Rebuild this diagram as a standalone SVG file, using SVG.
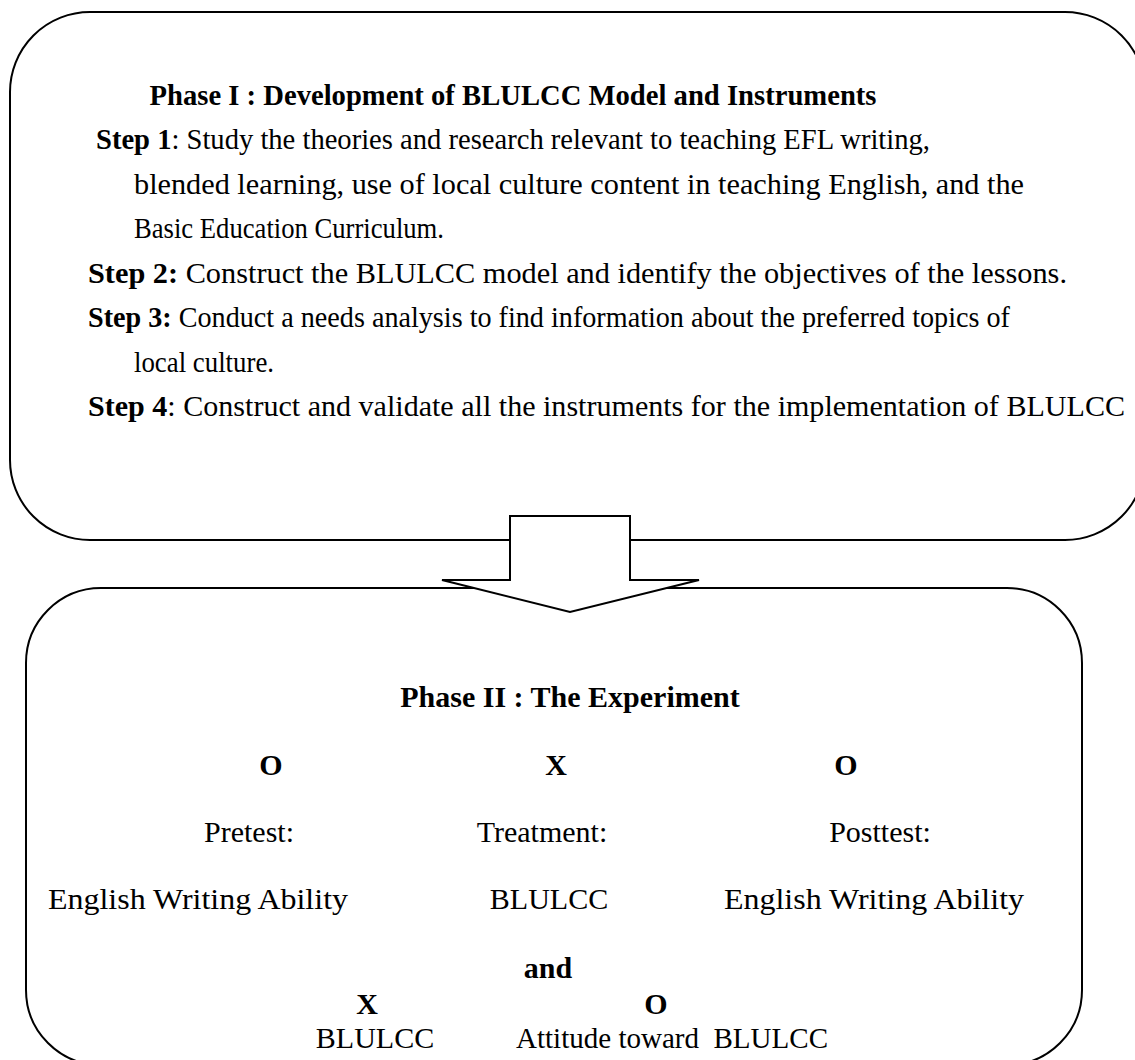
<svg xmlns="http://www.w3.org/2000/svg" width="1135" height="1060" viewBox="0 0 1135 1060">
<style>
.box{fill:#fff;stroke:#000;stroke-width:2}
.t{font-family:"Liberation Serif","Times New Roman",serif;font-size:30px;fill:#000}
.b{font-weight:bold}
.m{text-anchor:middle}
</style>
<rect width="1135" height="1060" fill="#fff"/>
<g id="phase1">
<rect class="box" x="10" y="12" width="1135" height="528" rx="80" ry="80"/>
<text class="t b m" x="513" y="105" textLength="727" lengthAdjust="spacingAndGlyphs">Phase I : Development of BLULCC Model and Instruments</text>
<text class="t" x="96" y="149" textLength="834" lengthAdjust="spacingAndGlyphs"><tspan class="b">Step 1</tspan>: Study the theories and research relevant to teaching EFL writing,</text>
<text class="t" x="134" y="194" textLength="890" lengthAdjust="spacingAndGlyphs">blended learning, use of local culture content in teaching English, and the</text>
<text class="t" x="134" y="238" textLength="310" lengthAdjust="spacingAndGlyphs">Basic Education Curriculum.</text>
<text class="t" x="88" y="283" textLength="979" lengthAdjust="spacingAndGlyphs"><tspan class="b">Step 2:</tspan> Construct the BLULCC model and identify the objectives of the lessons.</text>
<text class="t" x="88" y="327" textLength="922" lengthAdjust="spacingAndGlyphs"><tspan class="b">Step 3:</tspan> Conduct a needs analysis to find information about the preferred topics of</text>
<text class="t" x="134" y="372" textLength="140" lengthAdjust="spacingAndGlyphs">local culture.</text>
<text class="t" x="88" y="416" textLength="1037" lengthAdjust="spacingAndGlyphs"><tspan class="b">Step 4</tspan>: Construct and validate all the instruments for the implementation of BLULCC</text>
</g>
<g id="phase2">
<rect class="box" x="26" y="588" width="1056" height="477" rx="75" ry="75"/>
<text class="t b m" x="570" y="707">Phase II : The Experiment</text>
<text class="t b m" x="271" y="775">O</text>
<text class="t b m" x="556" y="775">X</text>
<text class="t b m" x="846" y="775">O</text>
<text class="t m" x="249" y="842">Pretest:</text>
<text class="t m" x="542" y="842">Treatment:</text>
<text class="t m" x="880" y="842">Posttest:</text>
<text class="t m" x="198" y="909" textLength="300" lengthAdjust="spacingAndGlyphs">English Writing Ability</text>
<text class="t m" x="549" y="909">BLULCC</text>
<text class="t m" x="874" y="909" textLength="300" lengthAdjust="spacingAndGlyphs">English Writing Ability</text>
<text class="t b m" x="548" y="978">and</text>
<text class="t b m" x="367" y="1014">X</text>
<text class="t b m" x="656" y="1014">O</text>
<text class="t m" x="375" y="1048">BLULCC</text>
<text class="t" x="516" y="1048" xml:space="preserve" textLength="312" lengthAdjust="spacingAndGlyphs">Attitude toward  BLULCC</text>
</g>
<g id="connectors">
<polygon class="box" points="510,516 630,516 630,580 699,580 570,612 442,580 510,580" stroke-width="1.5"/>
</g>
</svg>
